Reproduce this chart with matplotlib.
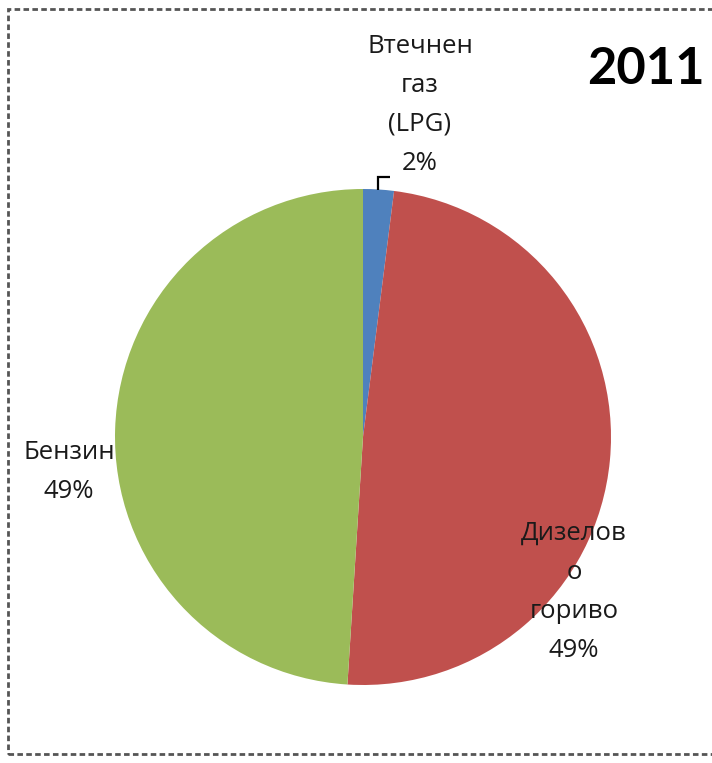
import matplotlib
matplotlib.use("Agg")
import matplotlib.pyplot as plt
from matplotlib.patches import Rectangle

# Fuel shares of registered vehicles, 2011
categories = ["Втечнен\nгаз\n(LPG)", "Дизелов\nо\nгориво", "Бензин"]
shares = [2, 49, 49]
colors = ["#4F81BD", "#C0504D", "#9BBB59"]
title = "2011"

W, H = 712, 763
fig = plt.figure(figsize=(W / 100, H / 100), dpi=100)
ax = fig.add_axes([0, 0, 1, 1])

# work in pixel-like units, y measured upward
cx, cy, r = 363, H - 437, 248
ax.pie(shares, colors=colors, startangle=90, counterclock=False,
       center=(cx, cy), radius=r, wedgeprops=dict(linewidth=0))
ax.set_xlim(0, W)
ax.set_ylim(0, H)
ax.set_aspect("equal")
ax.axis("off")

font = "Open Sans"
fs = 18.5
ls = 1.73
labels = [f"{c}\n{s}%" for c, s in zip(categories, shares)]
label_pos = [(420, 105), (574, 592), (69, 472)]
for text, (x, y) in zip(labels, label_pos):
    ax.text(x, H - y, text, ha="center", va="center", fontsize=fs,
            family=font, color="#1a1a1a", linespacing=ls)

# leader line for the small slice
ax.plot([378, 378, 390], [H - 190, H - 177, H - 177], color="black", lw=1.6,
        solid_capstyle="butt", solid_joinstyle="miter")

ax.text(587, H - 70, title, ha="left", va="center", fontsize=36.5,
        family="Lato", fontweight="bold", color="black")

# dashed chart-area border
border = Rectangle((7.5, H - 754), W + 20, 754 - 8.5, fill=False,
                   edgecolor="#555555", lw=2, linestyle=(0, (2, 1.2)))
ax.add_patch(border)

fig.savefig("out.png", dpi=100, facecolor="white")
